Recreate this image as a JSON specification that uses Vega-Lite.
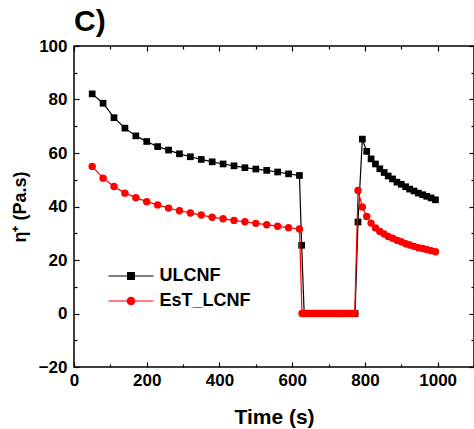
{
"$schema": "https://vega.github.io/schema/vega-lite/v6.json",
"width": 400, "height": 321,
"autosize": {"type": "none"},
"padding": {"left": 74, "top": 46, "right": 0, "bottom": 62},
"background": "white",
"title": {"text": "C)", "anchor": "start", "frame": "group", "fontSize": 30, "font": "Liberation Sans", "fontWeight": "bold", "color": "black", "offset": 5, "baseline": "bottom", "dy": 35},
"config": {
  "view": {"stroke": "black", "strokeWidth": 1.5},
  "axis": {"domain": false, "grid": false, "tickColor": "black", "tickWidth": 1.2, "labelFont": "Liberation Sans", "labelFontWeight": "bold", "labelFontSize": 17, "labelColor": "black", "titleFont": "Liberation Sans", "titleFontWeight": "bold", "titleColor": "black"}
},
"data": {"values": [
{"t":50,"v":82.1,"s":"ULCNF"},{"t":80,"v":78.6,"s":"ULCNF"},{"t":110,"v":73.2,"s":"ULCNF"},{"t":140,"v":69.3,"s":"ULCNF"},{"t":170,"v":66.4,"s":"ULCNF"},{"t":200,"v":64.3,"s":"ULCNF"},{"t":230,"v":62.4,"s":"ULCNF"},{"t":260,"v":61.1,"s":"ULCNF"},{"t":290,"v":59.7,"s":"ULCNF"},{"t":320,"v":58.6,"s":"ULCNF"},{"t":350,"v":57.6,"s":"ULCNF"},{"t":380,"v":56.7,"s":"ULCNF"},{"t":410,"v":55.9,"s":"ULCNF"},{"t":440,"v":55.2,"s":"ULCNF"},{"t":470,"v":54.5,"s":"ULCNF"},{"t":500,"v":54.0,"s":"ULCNF"},{"t":530,"v":53.5,"s":"ULCNF"},{"t":560,"v":52.9,"s":"ULCNF"},{"t":590,"v":52.2,"s":"ULCNF"},{"t":620,"v":51.6,"s":"ULCNF"},
{"t":626,"v":25.5,"s":"ULCNF"},
{"t":633,"v":0,"s":"ULCNF"},{"t":638,"v":0,"s":"ULCNF"},{"t":643,"v":0,"s":"ULCNF"},{"t":648,"v":0,"s":"ULCNF"},{"t":653,"v":0,"s":"ULCNF"},{"t":658,"v":0,"s":"ULCNF"},{"t":663,"v":0,"s":"ULCNF"},{"t":668,"v":0,"s":"ULCNF"},{"t":673,"v":0,"s":"ULCNF"},{"t":678,"v":0,"s":"ULCNF"},{"t":683,"v":0,"s":"ULCNF"},{"t":688,"v":0,"s":"ULCNF"},{"t":693,"v":0,"s":"ULCNF"},{"t":698,"v":0,"s":"ULCNF"},{"t":703,"v":0,"s":"ULCNF"},{"t":708,"v":0,"s":"ULCNF"},{"t":713,"v":0,"s":"ULCNF"},{"t":718,"v":0,"s":"ULCNF"},{"t":723,"v":0,"s":"ULCNF"},{"t":728,"v":0,"s":"ULCNF"},{"t":733,"v":0,"s":"ULCNF"},{"t":738,"v":0,"s":"ULCNF"},{"t":743,"v":0,"s":"ULCNF"},{"t":748,"v":0,"s":"ULCNF"},{"t":753,"v":0,"s":"ULCNF"},{"t":758,"v":0,"s":"ULCNF"},{"t":763,"v":0,"s":"ULCNF"},{"t":768,"v":0,"s":"ULCNF"},{"t":773,"v":0,"s":"ULCNF"},
{"t":781,"v":34.2,"s":"ULCNF"},{"t":793,"v":65.2,"s":"ULCNF"},{"t":805,"v":60.6,"s":"ULCNF"},{"t":817,"v":57.8,"s":"ULCNF"},{"t":829,"v":55.9,"s":"ULCNF"},{"t":841,"v":54.1,"s":"ULCNF"},{"t":853,"v":52.7,"s":"ULCNF"},{"t":864,"v":51.4,"s":"ULCNF"},{"t":876,"v":50.3,"s":"ULCNF"},{"t":888,"v":49.1,"s":"ULCNF"},{"t":900,"v":48.3,"s":"ULCNF"},{"t":912,"v":47.4,"s":"ULCNF"},{"t":923,"v":46.5,"s":"ULCNF"},{"t":935,"v":45.8,"s":"ULCNF"},{"t":947,"v":45.0,"s":"ULCNF"},{"t":959,"v":44.4,"s":"ULCNF"},{"t":970,"v":43.8,"s":"ULCNF"},{"t":982,"v":43.2,"s":"ULCNF"},{"t":994,"v":42.5,"s":"ULCNF"},
{"t":50,"v":55.0,"s":"EsT_LCNF"},{"t":80,"v":50.6,"s":"EsT_LCNF"},{"t":110,"v":47.5,"s":"EsT_LCNF"},{"t":140,"v":45.0,"s":"EsT_LCNF"},{"t":170,"v":43.3,"s":"EsT_LCNF"},{"t":200,"v":41.8,"s":"EsT_LCNF"},{"t":230,"v":40.6,"s":"EsT_LCNF"},{"t":260,"v":39.4,"s":"EsT_LCNF"},{"t":290,"v":38.4,"s":"EsT_LCNF"},{"t":320,"v":37.6,"s":"EsT_LCNF"},{"t":350,"v":36.8,"s":"EsT_LCNF"},{"t":380,"v":36.0,"s":"EsT_LCNF"},{"t":410,"v":35.4,"s":"EsT_LCNF"},{"t":440,"v":34.8,"s":"EsT_LCNF"},{"t":470,"v":34.3,"s":"EsT_LCNF"},{"t":500,"v":33.7,"s":"EsT_LCNF"},{"t":530,"v":33.2,"s":"EsT_LCNF"},{"t":560,"v":32.6,"s":"EsT_LCNF"},{"t":590,"v":32.1,"s":"EsT_LCNF"},{"t":620,"v":31.6,"s":"EsT_LCNF"},
{"t":627,"v":0,"s":"EsT_LCNF"},{"t":632,"v":0,"s":"EsT_LCNF"},{"t":637,"v":0,"s":"EsT_LCNF"},{"t":642,"v":0,"s":"EsT_LCNF"},{"t":647,"v":0,"s":"EsT_LCNF"},{"t":652,"v":0,"s":"EsT_LCNF"},{"t":657,"v":0,"s":"EsT_LCNF"},{"t":662,"v":0,"s":"EsT_LCNF"},{"t":667,"v":0,"s":"EsT_LCNF"},{"t":672,"v":0,"s":"EsT_LCNF"},{"t":677,"v":0,"s":"EsT_LCNF"},{"t":682,"v":0,"s":"EsT_LCNF"},{"t":687,"v":0,"s":"EsT_LCNF"},{"t":692,"v":0,"s":"EsT_LCNF"},{"t":697,"v":0,"s":"EsT_LCNF"},{"t":702,"v":0,"s":"EsT_LCNF"},{"t":707,"v":0,"s":"EsT_LCNF"},{"t":712,"v":0,"s":"EsT_LCNF"},{"t":717,"v":0,"s":"EsT_LCNF"},{"t":722,"v":0,"s":"EsT_LCNF"},{"t":727,"v":0,"s":"EsT_LCNF"},{"t":732,"v":0,"s":"EsT_LCNF"},{"t":737,"v":0,"s":"EsT_LCNF"},{"t":742,"v":0,"s":"EsT_LCNF"},{"t":747,"v":0,"s":"EsT_LCNF"},{"t":752,"v":0,"s":"EsT_LCNF"},{"t":757,"v":0,"s":"EsT_LCNF"},{"t":762,"v":0,"s":"EsT_LCNF"},{"t":767,"v":0,"s":"EsT_LCNF"},{"t":772,"v":0,"s":"EsT_LCNF"},
{"t":781,"v":46.0,"s":"EsT_LCNF"},{"t":793,"v":39.8,"s":"EsT_LCNF"},{"t":805,"v":36.3,"s":"EsT_LCNF"},{"t":817,"v":33.8,"s":"EsT_LCNF"},{"t":829,"v":32.0,"s":"EsT_LCNF"},{"t":841,"v":30.7,"s":"EsT_LCNF"},{"t":853,"v":29.7,"s":"EsT_LCNF"},{"t":864,"v":28.8,"s":"EsT_LCNF"},{"t":876,"v":28.1,"s":"EsT_LCNF"},{"t":888,"v":27.4,"s":"EsT_LCNF"},{"t":900,"v":26.8,"s":"EsT_LCNF"},{"t":912,"v":26.1,"s":"EsT_LCNF"},{"t":923,"v":25.6,"s":"EsT_LCNF"},{"t":935,"v":25.1,"s":"EsT_LCNF"},{"t":947,"v":24.6,"s":"EsT_LCNF"},{"t":959,"v":24.3,"s":"EsT_LCNF"},{"t":970,"v":23.9,"s":"EsT_LCNF"},{"t":982,"v":23.5,"s":"EsT_LCNF"},{"t":994,"v":23.1,"s":"EsT_LCNF"}
]},
"layer": [
  {
    "transform": [{"filter": "datum.s === 'ULCNF'"}],
    "mark": {"type": "line", "strokeWidth": 1.2},
    "encoding": {
      "x": {"field": "t", "type": "quantitative", "scale": {"domain": [0, 1100], "nice": false},
        "axis": {"orient": "bottom", "title": "Time (s)", "titleFontSize": 21, "titlePadding": 16, "format": "d", "values": [0,100,200,300,400,500,600,700,800,900,1000,1100], "labelExpr": "datum.value % 200 === 0 && datum.value < 1100 ? datum.label : ''", "tickSize": {"condition": {"test": "datum.value % 200 === 0", "value": -5}, "value": -3}, "labelPadding": 10, "labelFlush": false, "labelOverlap": false}},
      "y": {"field": "v", "type": "quantitative", "scale": {"domain": [-20, 100], "nice": false, "zero": false},
        "axis": {"orient": "left", "title": "η⁺ (Pa.s)", "titleFontSize": 18, "titlePadding": 9, "values": [-20,-10,0,10,20,30,40,50,60,70,80,90,100], "labelExpr": "datum.value % 20 === 0 ? datum.label : ''", "tickSize": {"condition": {"test": "datum.value % 20 === 0", "value": -5}, "value": -3}, "labelPadding": 12, "labelFlush": false, "labelOverlap": false}},
      "color": {"field": "s", "type": "nominal", "scale": {"domain": ["ULCNF", "EsT_LCNF"], "range": ["black", "red"]},
        "legend": {"orient": "none", "legendX": 48, "legendY": 221, "title": null, "padding": 0, "symbolSize": 225, "labelOffset": 19.5, "labelFontSize": 18, "labelFont": "Liberation Sans", "labelFontWeight": "bold", "labelColor": "black", "rowPadding": 7,
          "encode": {"symbols": {"update": {
            "shape": {"signal": "datum.value === 'ULCNF' ? 'M-3,0H3M-0.45,-0.45H0.45V0.45H-0.45Z' : 'M-3,0H3M0.5,0A0.5,0.5,0,1,1,-0.5,0A0.5,0.5,0,1,1,0.5,0Z'"},
            "fill": {"signal": "datum.value === 'ULCNF' ? 'black' : 'red'"},
            "stroke": {"signal": "datum.value === 'ULCNF' ? 'black' : 'red'"},
            "fillOpacity": {"value": 1}, "strokeOpacity": {"value": 1}, "opacity": {"value": 1}, "strokeWidth": {"value": 1.2}}}}}}
    }
  },
  {
    "transform": [{"filter": "datum.s === 'ULCNF'"}],
    "mark": {"type": "point", "shape": "square", "filled": true, "size": 45, "opacity": 1},
    "encoding": {
      "x": {"field": "t", "type": "quantitative",
        "axis": {"orient": "top", "title": null, "labels": false, "values": [0,100,200,300,400,500,600,700,800,900,1000,1100], "tickSize": {"condition": {"test": "datum.value % 200 === 0", "value": -5}, "value": -3}}},
      "y": {"field": "v", "type": "quantitative",
        "axis": {"orient": "right", "title": null, "labels": false, "values": [-20,-10,0,10,20,30,40,50,60,70,80,90,100], "tickSize": {"condition": {"test": "datum.value % 20 === 0", "value": -5}, "value": -3}}},
      "color": {"field": "s", "type": "nominal"}
    }
  },
  {
    "transform": [{"filter": "datum.s === 'EsT_LCNF'"}],
    "mark": {"type": "line", "strokeWidth": 1.2},
    "encoding": {
      "x": {"field": "t", "type": "quantitative", "axis": null},
      "y": {"field": "v", "type": "quantitative", "axis": null},
      "color": {"field": "s", "type": "nominal"}
    }
  },
  {
    "transform": [{"filter": "datum.s === 'EsT_LCNF'"}],
    "mark": {"type": "point", "shape": "circle", "filled": true, "size": 55, "opacity": 1},
    "encoding": {
      "x": {"field": "t", "type": "quantitative", "axis": null},
      "y": {"field": "v", "type": "quantitative", "axis": null},
      "color": {"field": "s", "type": "nominal"}
    }
  }
],
"resolve": {"axis": {"x": "independent", "y": "independent"}}
}
